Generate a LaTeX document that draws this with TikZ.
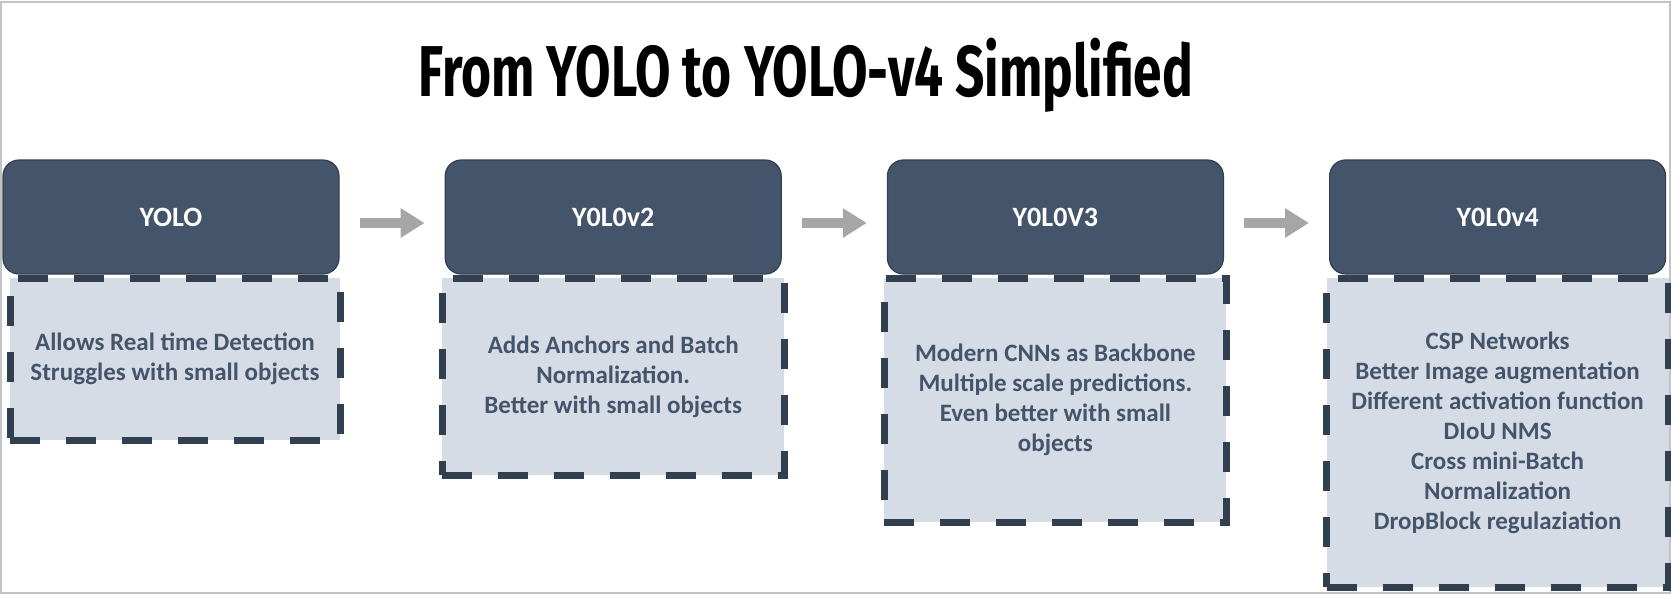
\documentclass[tikz,border=0pt]{standalone}
\usepackage{fontspec}
\setmainfont{Carlito}
\newfontfamily\titlefont{Fira Sans}
\usepackage{graphicx}
\usetikzlibrary{positioning,arrows.meta}
\definecolor{slate}{HTML}{44546A}
\definecolor{slatedark}{HTML}{323F4F}
\definecolor{paleblue}{HTML}{D6DCE5}
\definecolor{arrowgray}{HTML}{A6A6A6}
\definecolor{framegray}{HTML}{C3C3C3}

\begin{document}
\begin{tikzpicture}[x=0.5pt, y=-0.5pt,
		head/.style={draw=slatedark, line width=0.6pt, fill=slate, rounded corners=8pt,
			minimum width=168pt, minimum height=57pt, text=white,
			font=\fontsize{14}{16}\selectfont\bfseries},
		note/.style={draw=slatedark, fill=paleblue, line width=3.5pt, dash pattern=on 15pt off 13pt,
			minimum width=171pt, align=center, text=slate,
			font=\fontsize{12.5}{15}\selectfont\bfseries},
		link/.style={arrowgray, line width=5pt, -{Triangle[length=12pt,width=14pt]},
			shorten <=10pt, shorten >=10pt}]
		\useasboundingbox (0,0) rectangle (1671,595);
		% frame
		\draw[framegray, line width=1pt] (1,2) rectangle (1670,593);
		% title
		\node[anchor=base] (title) at (806,96) {\resizebox{387pt}{\height}{\titlefont\bfseries\fontsize{36}{40}\selectfont From YOLO to YOLO-v4 Simplified}};
		%%% versions
		\node[head] (h1) at (171,217) {YOLO};
		\node[head, right=52.5pt of h1] (h2) {Y0L0v2};
		\node[head, right=52.5pt of h2] (h3) {Y0L0V3};
		\node[head, right=52.5pt of h3] (h4) {Y0L0v4};
		\foreach \a/\b in {h1/h2,h2/h3,h3/h4}
			\draw[link] ([yshift=-3pt]\a.east) -- ([yshift=-3pt]\b.west);
		%%% what each one changes
		\node[note, minimum width=165pt, minimum height=81pt, below=0pt of h1, xshift=2pt] (d1) {Allows Real time Detection\\Struggles with small objects};
		\node[note, minimum height=98.5pt, below=0pt of h2] (d2) {Adds Anchors and Batch\\Normalization.\\Better with small objects};
		\node[note, minimum height=122pt, below=0pt of h3] (d3) {Modern CNNs as Backbone\\Multiple scale predictions.\\Even better with small\\objects};
		\node[note, minimum height=154.5pt, below=0pt of h4] (d4) {CSP Networks\\Better Image augmentation\\Different activation function\\DIoU NMS\\Cross mini-Batch\\Normalization\\DropBlock regulaziation};
	\end{tikzpicture}
\end{document}
